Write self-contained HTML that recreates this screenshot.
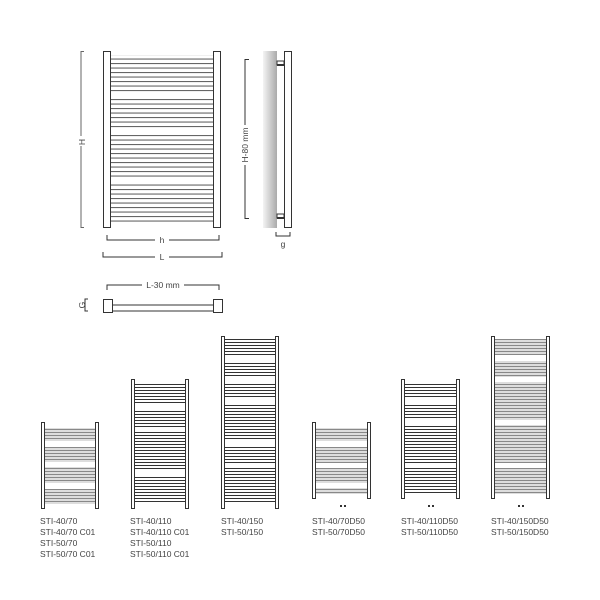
<!DOCTYPE html>
<html><head><meta charset="utf-8"><style>
html,body{margin:0;padding:0;background:#fff;width:600px;height:600px;overflow:hidden}
text{font-family:"Liberation Sans",sans-serif;fill:#444}
</style></head><body>
<svg width="600" height="600" viewBox="0 0 600 600" xmlns="http://www.w3.org/2000/svg">
<defs>
<pattern id="pb" width="10" height="4.5" patternUnits="userSpaceOnUse">
<rect width="10" height="4.5" fill="#fff"/><rect y="0" width="10" height="1.1" fill="#666"/></pattern>
<pattern id="ps" width="10" height="3" patternUnits="userSpaceOnUse">
<rect width="10" height="3" fill="#fff"/><rect y="0" width="10" height="1" fill="#333"/></pattern>
<pattern id="pg" width="10" height="3" patternUnits="userSpaceOnUse">
<rect width="10" height="3" fill="#ddd"/><rect y="0" width="10" height="1" fill="#888"/></pattern>
<linearGradient id="wall" x1="0" x2="1"><stop offset="0" stop-color="#f4f4f4"/><stop offset="1" stop-color="#aaa"/></linearGradient>
</defs>
<g stroke="#333" fill="none" stroke-width="1">
<rect x="110" y="55" width="104" height="167" fill="url(#pb)" stroke="none"/>
<rect x="110" y="93" width="104" height="6" fill="#fff" stroke="none"/>
<rect x="110" y="128" width="104" height="6" fill="#fff" stroke="none"/>
<rect x="110" y="177" width="104" height="6" fill="#fff" stroke="none"/>
<rect x="103.5" y="51.5" width="7" height="176" fill="#fff"/>
<rect x="213.5" y="51.5" width="7" height="176" fill="#fff"/>
<path d="M84 51.5H81V227.5H84" stroke="#666"/>
<path d="M107 235v5h112v-5M103 252v5h119v-5" />
<rect x="263" y="51" width="14" height="177" fill="url(#wall)" stroke="none"/>
<rect x="284.5" y="51.5" width="7" height="176" fill="#fff"/>
<rect x="277" y="61" width="7" height="4" fill="#fff"/><rect x="277" y="214" width="7" height="4" fill="#fff"/>
<path d="M277 65h7M277 218h7" stroke-width="2"/>
<path d="M249 59.5h-4V218.5h4"/>
<path d="M276 232v4h14v-4"/>
<path d="M107 290v-5h112v5"/>
<rect x="103.5" y="299.5" width="9" height="13" fill="#fff"/>
<rect x="213.5" y="299.5" width="9" height="13" fill="#fff"/>
<path d="M112 305h102M112 311h102"/>
<path d="M88 299h-3v12h3"/>
<!-- bottom units -->
<rect x="44" y="428" width="52" height="76" fill="url(#pg)" stroke="none"/>
<rect x="44" y="441" width="52" height="6" fill="#fff" stroke="none"/>
<rect x="44" y="462" width="52" height="5" fill="#fff" stroke="none"/>
<rect x="44" y="483" width="52" height="6" fill="#fff" stroke="none"/>
<rect x="41.5" y="422.5" width="3" height="86" fill="#fff"/><rect x="95.5" y="422.5" width="3" height="86" fill="#fff"/>
<rect x="134" y="382" width="52" height="122" fill="url(#ps)" stroke="none"/>
<rect x="134" y="405" width="52" height="5" fill="#fff" stroke="none"/>
<rect x="134" y="427" width="52" height="5" fill="#fff" stroke="none"/>
<rect x="134" y="470" width="52" height="5" fill="#fff" stroke="none"/>
<rect x="131.5" y="379.5" width="3" height="129" fill="#fff"/><rect x="185.5" y="379.5" width="3" height="129" fill="#fff"/>
<rect x="224" y="339" width="52" height="165" fill="url(#ps)" stroke="none"/>
<rect x="224" y="355" width="52" height="6" fill="#fff" stroke="none"/>
<rect x="224" y="377" width="52" height="5" fill="#fff" stroke="none"/>
<rect x="224" y="398" width="52" height="5" fill="#fff" stroke="none"/>
<rect x="224" y="441" width="52" height="5" fill="#fff" stroke="none"/>
<rect x="224" y="463" width="52" height="5" fill="#fff" stroke="none"/>
<rect x="221.5" y="336.5" width="3" height="172" fill="#fff"/><rect x="275.5" y="336.5" width="3" height="172" fill="#fff"/>
<rect x="315" y="428" width="53" height="66" fill="url(#pg)" stroke="none"/>
<rect x="315" y="441" width="53" height="6" fill="#fff" stroke="none"/>
<rect x="315" y="463" width="53" height="5" fill="#fff" stroke="none"/>
<rect x="315" y="483" width="53" height="5" fill="#fff" stroke="none"/>
<rect x="312.5" y="422.5" width="3" height="76" fill="#fff"/><rect x="367.5" y="422.5" width="3" height="76" fill="#fff"/>
<rect x="404" y="382" width="53" height="112" fill="url(#ps)" stroke="none"/>
<rect x="404" y="398" width="53" height="5" fill="#fff" stroke="none"/>
<rect x="404" y="420" width="53" height="5" fill="#fff" stroke="none"/>
<rect x="404" y="463" width="53" height="5" fill="#fff" stroke="none"/>
<rect x="401.5" y="379.5" width="3" height="119" fill="#fff"/><rect x="456.5" y="379.5" width="3" height="119" fill="#fff"/>
<rect x="494" y="339" width="53" height="155" fill="url(#pg)" stroke="none"/>
<rect x="494" y="355" width="53" height="6" fill="#fff" stroke="none"/>
<rect x="494" y="377" width="53" height="5" fill="#fff" stroke="none"/>
<rect x="494" y="420" width="53" height="5" fill="#fff" stroke="none"/>
<rect x="494" y="463" width="53" height="5" fill="#fff" stroke="none"/>
<rect x="491.5" y="336.5" width="3" height="162" fill="#fff"/><rect x="546.5" y="336.5" width="3" height="162" fill="#fff"/>
</g>
<g fill="#333"><rect x="340" y="505" width="2" height="2"/><rect x="344" y="505" width="2" height="2"/>
<rect x="428" y="505" width="2" height="2"/><rect x="432" y="505" width="2" height="2"/>
<rect x="518" y="505" width="2" height="2"/><rect x="522" y="505" width="2" height="2"/></g>
<g font-size="8.5">
<rect x="76" y="136" width="10" height="10" fill="#fff"/>
<text x="85" y="142" transform="rotate(-90 85 142)" text-anchor="middle">H</text>
<rect x="240" y="125" width="10" height="40" fill="#fff"/>
<text x="248" y="145" transform="rotate(-90 248 145)" text-anchor="middle">H-80 mm</text>
<rect x="155" y="236" width="14" height="8" fill="#fff"/><text x="162" y="243" text-anchor="middle">h</text>
<rect x="155" y="253" width="14" height="8" fill="#fff"/><text x="162" y="260" text-anchor="middle">L</text>
<text x="283" y="247" text-anchor="middle">g</text>
<rect x="142" y="281" width="42" height="8" fill="#fff"/><text x="163" y="288" text-anchor="middle">L-30 mm</text>
<text x="85" y="305" transform="rotate(-90 85 305)" text-anchor="middle">G</text>
<text x="40" y="524">STI-40/70</text><text x="40" y="535">STI-40/70 C01</text><text x="40" y="546">STI-50/70</text><text x="40" y="557">STI-50/70 C01</text>
<text x="130" y="524">STI-40/110</text><text x="130" y="535">STI-40/110 C01</text><text x="130" y="546">STI-50/110</text><text x="130" y="557">STI-50/110 C01</text>
<text x="221" y="524">STI-40/150</text><text x="221" y="535">STI-50/150</text>
<text x="312" y="524">STI-40/70D50</text><text x="312" y="535">STI-50/70D50</text>
<text x="401" y="524">STI-40/110D50</text><text x="401" y="535">STI-50/110D50</text>
<text x="491" y="524">STI-40/150D50</text><text x="491" y="535">STI-50/150D50</text>
</g>
</svg>
</body></html>
